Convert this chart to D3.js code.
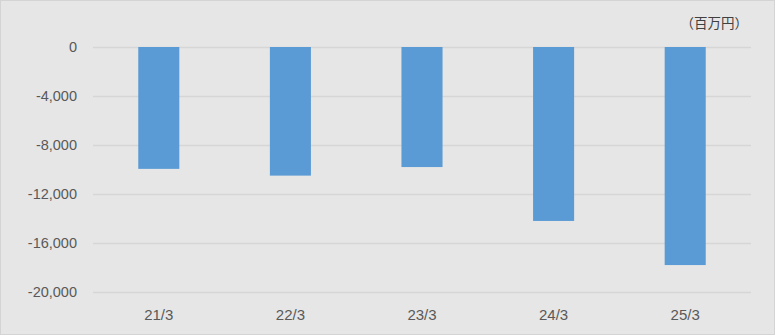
<!DOCTYPE html>
<html><head><meta charset="utf-8">
<script src="https://cdn.jsdelivr.net/npm/d3@7"></script>
<style>body{margin:0;background:#fff}svg{display:block}</style>
</head><body>
<script>
const categories = ["21/3","22/3","23/3","24/3","25/3"];
const values = [-9950,-10500,-9800,-14200,-17800];
const yTicks = [0,-4000,-8000,-12000,-16000,-20000];
const unitLabel = "（百万円）";

const W = 775, H = 335;
const svg = d3.select("body").append("svg").attr("width", W).attr("height", H);
svg.append("rect").attr("x",0.5).attr("y",0.5).attr("width",W-1).attr("height",H-1)
  .attr("fill","#e6e6e6").attr("stroke","#d4d4d4").attr("stroke-width",1);

const x = d3.scaleBand().domain(categories).range([93,751]).paddingInner(0.688).paddingOuter(0.344);
const y = d3.scaleLinear().domain([-20000,0]).range([292,47]);

const font = "'Liberation Sans', Arial, sans-serif";
svg.append("g").selectAll("line").data(yTicks).join("line")
  .attr("x1",93).attr("x2",751).attr("y1",d=>Math.round(y(d))+0.5).attr("y2",d=>Math.round(y(d))+0.5)
  .attr("stroke","#d6d6d6").attr("stroke-width",1.5);

svg.append("g").selectAll("text").data(yTicks).join("text")
  .attr("x",77).attr("y",d=>y(d)).attr("dy","0.35em").attr("text-anchor","end")
  .attr("font-family",font).attr("font-size",14.5).attr("fill","#595959")
  .text(d=>d3.format(",")(d).replace("−","-"));

svg.append("g").selectAll("rect").data(values).join("rect")
  .attr("x",(d,i)=>x(categories[i])).attr("width",x.bandwidth())
  .attr("y",y(0)).attr("height",d=>y(d)-y(0)).attr("fill","#5b9bd5");

svg.append("g").selectAll("text").data(categories).join("text")
  .attr("x",d=>x(d)+x.bandwidth()/2).attr("y",315).attr("dy","0.35em").attr("text-anchor","middle")
  .attr("font-family",font).attr("font-size",15).attr("fill","#595959").text(d=>d);

svg.append("text").attr("x",748).attr("y",23).attr("dy","0.35em").attr("text-anchor","end")
  .attr("font-family","'Noto Sans CJK JP', sans-serif").attr("font-size",13.5).attr("fill","#404040").text(unitLabel);
</script>
</body></html>
